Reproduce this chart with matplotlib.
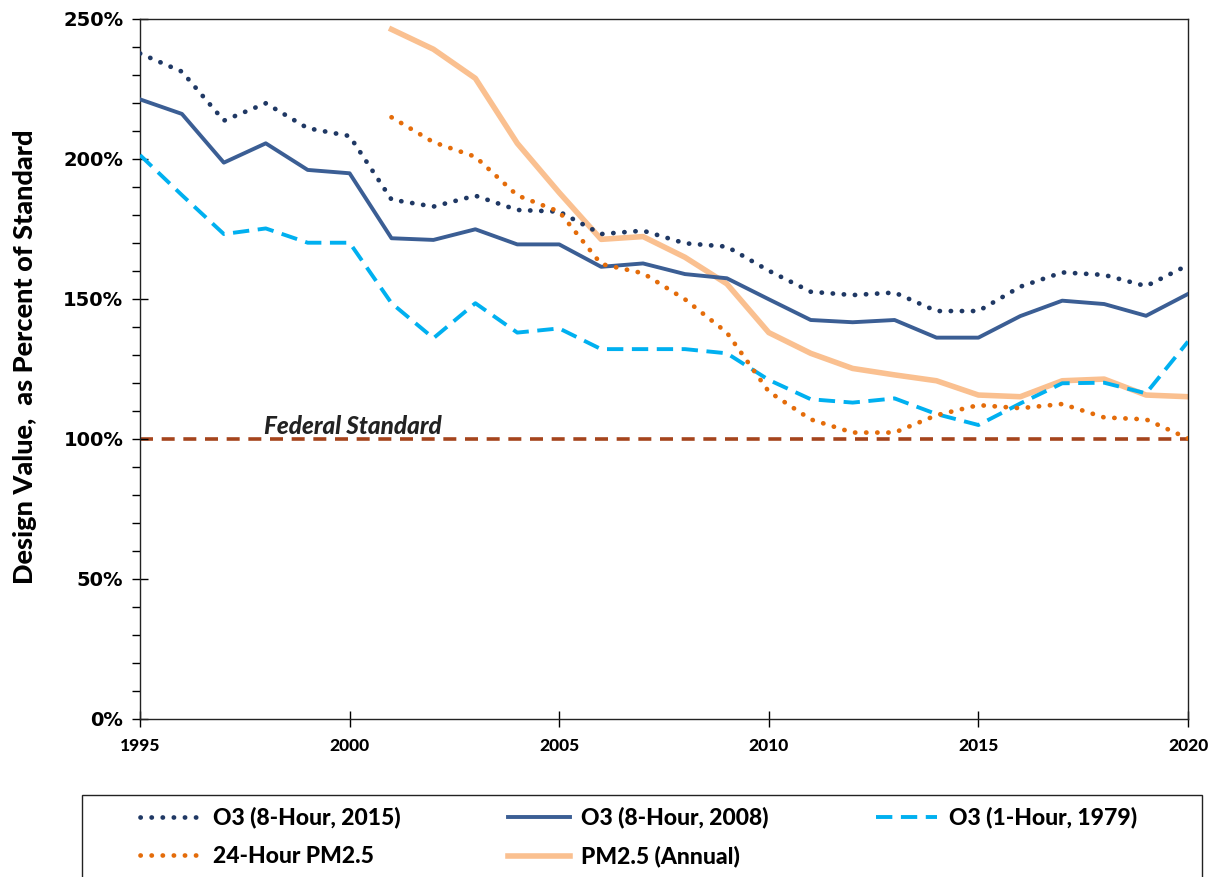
import matplotlib
matplotlib.use("Agg")
import matplotlib.pyplot as plt
from matplotlib.ticker import MultipleLocator, FuncFormatter
from matplotlib.patches import Rectangle

years = list(range(1995, 2021))
pm_years = list(range(2001, 2021))

o3_8hr_2015 = [237.7, 231.2, 213.7, 219.9, 211.0, 208.2, 185.5, 183.0, 186.9, 181.8, 181.2,
               173.2, 174.4, 169.9, 168.7, 160.1, 152.6, 151.4, 152.3, 145.7, 145.7,
               154.4, 159.5, 158.6, 154.6, 162.1]
o3_8hr_2008 = [221.3, 216.1, 198.7, 205.6, 196.1, 194.9, 171.7, 171.1, 174.9, 169.5, 169.5,
               161.5, 162.7, 158.9, 157.4, 149.9, 142.5, 141.7, 142.5, 136.2, 136.2,
               143.9, 149.4, 148.2, 144.0, 151.8]
o3_1hr_1979 = [201.4, 187.1, 173.2, 175.2, 170.1, 170.1, 148.5, 136.0, 148.5, 138.0, 139.5,
               132.1, 132.1, 132.1, 130.6, 121.1, 114.2, 113.0, 114.5, 108.9, 105.0,
               112.7, 119.9, 120.1, 116.3, 134.8]
pm25_24hr = [214.9, 206.0, 200.8, 187.0, 181.2, 162.5, 159.2, 149.9, 138.0, 116.9,
             107.0, 102.3, 102.3, 108.5, 112.1, 111.0, 112.5, 107.7, 107.0, 100.2]
pm25_annual = [246.3, 239.2, 228.8, 205.6, 188.0, 171.3, 172.3, 164.9, 155.4, 138.0,
               130.6, 125.2, 122.9, 120.8, 115.7, 115.1, 120.8, 121.4, 115.7, 115.1]
federal_standard = 100
labels = ["O3 (8-Hour, 2015)", "O3 (8-Hour, 2008)", "O3 (1-Hour, 1979)",
          "24-Hour PM2.5", "PM2.5 (Annual)"]
x_ticks = [1995, 2000, 2005, 2010, 2015, 2020]

lato = ["Lato", "DejaVu Sans"]

fig = plt.figure(figsize=(12.12, 8.77), dpi=100)
ax = fig.add_axes([140/1212, 1-719/877, (1188-140)/1212, (719-19)/877])

dot = (0, (0.05, 2.3))
h1, = ax.plot(years, o3_8hr_2015, color="#1F3864", lw=3.4, linestyle=dot,
              dash_capstyle="round", zorder=4)
h2, = ax.plot(years, o3_8hr_2008, color="#3B5E94", lw=2.8, zorder=3)
h3, = ax.plot(years, o3_1hr_1979, color="#00B0F0", lw=2.8, linestyle=(0, (4.2, 2.2)),
              zorder=3)
h4, = ax.plot(pm_years, pm25_24hr, color="#E46C0A", lw=3.4, linestyle=dot,
              dash_capstyle="round", zorder=4)
h5, = ax.plot(pm_years, pm25_annual, color="#FAC090", lw=4.0, zorder=2)
ax.axhline(federal_standard, color="#A5441C", lw=2.6, linestyle=(0, (3.6, 2.4)), zorder=1)
ax.text(1997.95, federal_standard + 1.8, "Federal Standard", fontsize=17.5,
        fontweight="black", style="italic", color="#222222", family=lato)

ax.set_xlim(1995, 2020)
ax.set_ylim(0, 250)
ax.set_xticks(x_ticks)
ax.yaxis.set_major_locator(MultipleLocator(50))
ax.yaxis.set_minor_locator(MultipleLocator(10))
ax.yaxis.set_major_formatter(FuncFormatter(lambda v, p: f"{int(v)}%"))
ax.tick_params(axis="y", which="major", direction="inout", length=12, width=1,
               labelsize=14, pad=6)
ax.tick_params(axis="y", which="minor", direction="out", length=6, width=1)
ax.tick_params(axis="x", which="major", direction="inout", length=12, width=1,
               labelsize=12.5, pad=8)
for lab in ax.get_yticklabels():
    lab.set_fontweight("bold")
    lab.set_family(["DejaVu Sans"])
for lab in ax.get_xticklabels():
    lab.set_fontweight("black")
    lab.set_family(lato)
for s in ax.spines.values():
    s.set_linewidth(1.0)
    s.set_color("#222222")

ax.set_ylabel("Design Value,  as Percent of Standard", fontsize=19.5, fontweight="black",
              family=lato)
ax.yaxis.set_label_coords((37 - 140) / 1048, (719 - 357) / 700)

# legend: row-wise order via column-major handle ordering
handles = [h1, h4, h2, h5, h3]
leg_labels = [labels[0], labels[3], labels[1], labels[4], labels[2]]
leg = fig.legend(handles=handles, labels=leg_labels, ncol=3,
                 loc="upper left",
                 bbox_to_anchor=(140/1212, 0, (1137-140)/1212, 1-807/877),
                 mode="expand", frameon=False,
                 handlelength=2.7, handletextpad=0.5, borderpad=0, labelspacing=0.75,
                 prop={"family": lato, "weight": "black", "size": 16.5},
                 borderaxespad=0)
fig.patches.append(Rectangle((82/1212, -0.02), (1202-82)/1212, (877-795)/877 + 0.02,
                             transform=fig.transFigure, fill=False,
                             edgecolor="#222222", linewidth=1.0))

fig.savefig("out.png", dpi=100)
